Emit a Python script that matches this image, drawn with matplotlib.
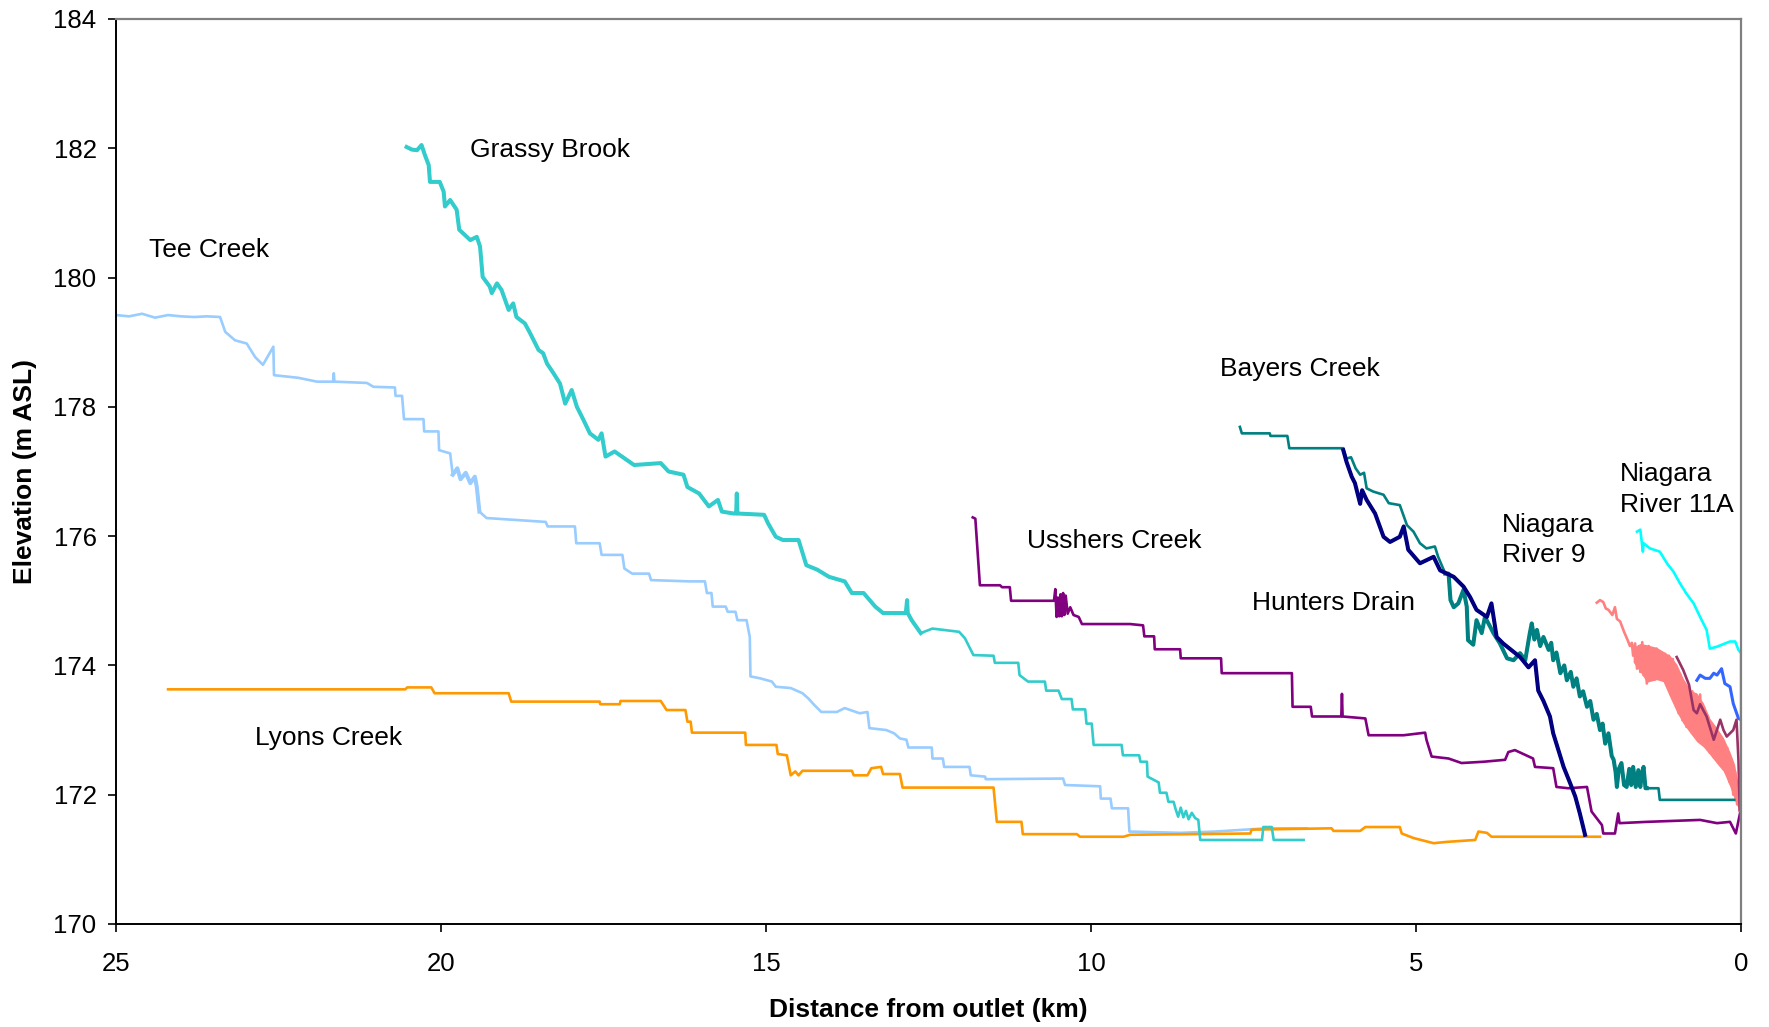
import matplotlib
matplotlib.use("Agg")
import matplotlib.pyplot as plt

plt.rcParams["font.family"] = ["Liberation Sans", "DejaVu Sans"]

# ─── Data (distance from outlet in km, elevation in m ASL) ──────────────────

tee_km = [25.0, 24.8, 24.6, 24.4, 24.2, 24.0, 23.8, 23.6, 23.4, 23.32, 23.17, 22.99, 22.86, 22.74,
          22.58, 22.57, 22.2, 21.91, 21.66, 21.65, 21.64, 21.14, 21.04, 20.71, 20.70, 20.6, 20.57,
          20.27, 20.26, 20.04, 20.03, 19.86, 19.82, 19.75, 19.7, 19.62, 19.55, 19.48, 19.45, 19.41,
          19.30, 18.39, 18.36, 17.94, 17.92, 17.56, 17.53, 17.21, 17.18, 17.06, 16.80, 16.77, 16.18,
          15.94, 15.91, 15.84, 15.82, 15.62, 15.59, 15.47, 15.44, 15.30, 15.25, 15.24, 15.09, 14.91,
          14.85, 14.62, 14.44, 14.35, 14.26, 14.15, 13.91, 13.79, 13.56, 13.44, 13.41, 13.15, 13.03,
          12.94, 12.84, 12.81, 12.45, 12.44, 12.28, 12.26, 11.87, 11.85, 11.63, 11.62, 10.43, 10.40,
          9.86, 9.85, 9.70, 9.68, 9.43, 9.41, 8.63, 8.09, 7.30, 6.68]
tee_el = [179.42, 179.40, 179.44, 179.38, 179.42, 179.40, 179.39, 179.40, 179.39, 179.16, 179.03,
          178.98, 178.77, 178.65, 178.93, 178.49, 178.45, 178.39, 178.39, 178.52, 178.39, 178.37,
          178.31, 178.30, 178.17, 178.17, 177.81, 177.81, 177.62, 177.62, 177.33, 177.28, 176.95,
          177.05, 176.88, 176.98, 176.82, 176.92, 176.76, 176.38, 176.28, 176.22, 176.15, 176.15,
          175.89, 175.89, 175.71, 175.71, 175.50, 175.42, 175.42, 175.32, 175.30, 175.30, 175.12,
          175.12, 174.91, 174.91, 174.83, 174.83, 174.70, 174.70, 174.44, 173.83, 173.80, 173.75,
          173.67, 173.65, 173.57, 173.49, 173.39, 173.28, 173.28, 173.34, 173.26, 173.28, 173.03,
          173.00, 172.95, 172.87, 172.85, 172.73, 172.73, 172.56, 172.56, 172.43, 172.43, 172.30,
          172.28, 172.24, 172.25, 172.15, 172.13, 171.94, 171.94, 171.79, 171.79, 171.43, 171.41,
          171.43, 171.48, 171.48]

grassy_km = [20.53, 20.45, 20.37, 20.30, 20.25, 20.19, 20.17, 20.02, 19.96, 19.94, 19.86, 19.76,
             19.72, 19.55, 19.45, 19.40, 19.36, 19.25, 19.22, 19.14, 19.07, 18.96, 18.89, 18.84,
             18.71, 18.63, 18.50, 18.43, 18.37, 18.27, 18.17, 18.09, 17.99, 17.91, 17.81, 17.71,
             17.58, 17.53, 17.47, 17.33, 17.03, 16.62, 16.50, 16.27, 16.21, 16.03, 15.88, 15.74,
             15.68, 15.50, 15.46, 15.45, 15.44, 15.03, 14.97, 14.85, 14.74, 14.50, 14.38, 14.21,
             14.03, 13.79, 13.68, 13.50, 13.32, 13.20, 12.85, 12.83, 12.82, 12.76, 12.62, 12.44,
             12.03, 11.94, 11.81, 11.50, 11.48, 11.12, 11.10, 10.97, 10.71, 10.69, 10.50, 10.45,
             10.30, 10.28, 10.09, 10.07, 9.99, 9.96, 9.53, 9.51, 9.26, 9.24, 9.14, 9.13, 8.96, 8.94,
             8.84, 8.81, 8.73, 8.70, 8.66, 8.62, 8.58, 8.54, 8.50, 8.45, 8.40, 8.35, 8.32, 7.37,
             7.35, 7.22, 7.19, 6.73]
grassy_el = [182.02, 181.98, 181.97, 182.05, 181.90, 181.74, 181.48, 181.48, 181.33, 181.10, 181.20,
             181.05, 180.74, 180.58, 180.63, 180.48, 180.01, 179.86, 179.76, 179.91, 179.81, 179.50,
             179.60, 179.39, 179.29, 179.14, 178.88, 178.83, 178.67, 178.52, 178.36, 178.05, 178.26,
             178.00, 177.80, 177.59, 177.49, 177.59, 177.23, 177.31, 177.10, 177.13, 177.00, 176.95,
             176.76, 176.66, 176.46, 176.56, 176.38, 176.35, 176.35, 176.66, 176.35, 176.33, 176.20,
             175.99, 175.94, 175.94, 175.55, 175.48, 175.37, 175.30, 175.12, 175.12, 174.91, 174.81,
             174.81, 175.01, 174.81, 174.70, 174.50, 174.57, 174.52, 174.42, 174.16, 174.15, 174.04,
             174.04, 173.85, 173.75, 173.75, 173.61, 173.61, 173.48, 173.48, 173.32, 173.32, 173.10,
             173.10, 172.77, 172.77, 172.61, 172.61, 172.51, 172.51, 172.28, 172.19, 172.03, 172.03,
             171.89, 171.89, 171.78, 171.66, 171.80, 171.65, 171.75, 171.62, 171.72, 171.64, 171.61,
             171.30, 171.30, 171.50, 171.50, 171.30, 171.30]

lyons_km = [24.2, 20.55, 20.52, 20.15, 20.10, 18.96, 18.92, 17.56, 17.55, 17.25, 17.24, 16.62, 16.53,
            16.24, 16.21, 16.16, 16.14, 15.32, 15.31, 14.84, 14.82, 14.68, 14.62, 14.55, 14.50, 14.44,
            13.68, 13.65, 13.44, 13.38, 13.23, 13.20, 12.94, 12.90, 11.50, 11.45, 11.07, 11.05, 10.22,
            10.17, 9.50, 9.40, 7.55, 7.53, 6.30, 6.27, 5.86, 5.78, 5.25, 5.22, 5.04, 4.73, 4.53, 4.09,
            4.04, 3.91, 3.84, 2.17]
lyons_el = [173.63, 173.63, 173.66, 173.66, 173.57, 173.57, 173.44, 173.44, 173.40, 173.40, 173.45,
            173.45, 173.31, 173.31, 173.13, 173.13, 172.96, 172.96, 172.77, 172.77, 172.63, 172.61,
            172.30, 172.36, 172.30, 172.37, 172.37, 172.30, 172.30, 172.41, 172.43, 172.32, 172.32,
            172.11, 172.11, 171.58, 171.58, 171.39, 171.39, 171.35, 171.35, 171.38, 171.40, 171.46,
            171.48, 171.44, 171.44, 171.50, 171.50, 171.40, 171.33, 171.25, 171.27, 171.30, 171.43,
            171.41, 171.35, 171.35]

usshers_km = [11.82, 11.78, 11.71, 11.40, 11.37, 11.25, 11.23, 10.57, 10.55, 10.53, 10.51, 10.49, 10.47,
              10.45, 10.43, 10.41, 10.39, 10.36, 10.32, 10.27, 10.19, 10.14, 9.40, 9.20, 9.18, 9.03,
              9.02, 8.63, 8.62, 8.00, 7.99, 6.91, 6.90, 6.62, 6.60, 6.15, 6.14, 6.13, 5.78, 5.73, 5.19,
              4.86, 4.84, 4.76, 4.50, 4.30, 3.96, 3.63, 3.58, 3.48, 3.20, 3.17, 2.89, 2.84, 2.66, 2.37,
              2.30, 2.14, 2.12, 1.94, 1.89, 1.87, 1.45, 0.63, 0.37, 0.17, 0.08, 0.0]
usshers_el = [176.29, 176.27, 175.24, 175.24, 175.21, 175.21, 175.00, 175.00, 175.18, 174.75, 175.05,
              174.76, 175.10, 174.76, 175.12, 174.78, 175.08, 174.80, 174.90, 174.78, 174.75, 174.64,
              174.64, 174.62, 174.45, 174.45, 174.25, 174.25, 174.11, 174.11, 173.88, 173.88, 173.36,
              173.36, 173.21, 173.21, 173.56, 173.21, 173.18, 172.92, 172.92, 172.96, 172.85, 172.59,
              172.56, 172.49, 172.51, 172.54, 172.66, 172.69, 172.56, 172.43, 172.41, 172.12, 172.10,
              172.12, 171.74, 171.53, 171.40, 171.40, 171.71, 171.56, 171.58, 171.61, 171.56, 171.58,
              171.40, 171.79]

bayers_km = [7.71, 7.68, 7.25, 7.24, 6.98, 6.95, 6.12, 6.07, 6.00, 5.93, 5.86, 5.80, 5.76, 5.66, 5.50,
             5.42, 5.25, 5.14, 5.04, 4.94, 4.84, 4.71, 4.66, 4.55, 4.50, 4.47, 4.42, 4.35, 4.27, 4.22,
             4.20, 4.12, 4.07, 3.99, 3.94, 3.86, 3.81, 3.71, 3.60, 3.50, 3.40, 3.32, 3.25, 3.22, 3.18,
             3.14, 3.09, 3.04, 2.96, 2.92, 2.89, 2.84, 2.78, 2.72, 2.68, 2.62, 2.58, 2.53, 2.48, 2.43,
             2.37, 2.32, 2.27, 2.22, 2.17, 2.13, 2.09, 2.04, 1.99, 1.96, 1.93, 1.91, 1.88, 1.84, 1.80,
             1.76, 1.72, 1.69, 1.66, 1.62, 1.58, 1.55, 1.52, 1.50, 1.47, 1.45, 1.27, 1.25, 0.0]
bayers_el = [177.69, 177.59, 177.59, 177.55, 177.55, 177.36, 177.36, 177.20, 177.22, 177.05, 176.95,
             176.98, 176.74, 176.69, 176.64, 176.51, 176.48, 176.17, 176.07, 175.89, 175.81, 175.84,
             175.68, 175.42, 175.42, 175.01, 174.90, 174.96, 175.17, 174.91, 174.39, 174.32, 174.70,
             174.50, 174.75, 174.60, 174.50, 174.34, 174.11, 174.08, 174.19, 174.08, 174.50, 174.65,
             174.40, 174.55, 174.30, 174.44, 174.24, 174.35, 174.08, 174.20, 173.88, 174.00, 173.77,
             173.90, 173.67, 173.80, 173.52, 173.60, 173.36, 173.45, 173.16, 173.25, 173.00, 173.10,
             172.79, 172.95, 172.60, 172.54, 172.35, 172.12, 172.40, 172.49, 172.15, 172.12, 172.40,
             172.15, 172.43, 172.12, 172.38, 172.12, 172.35, 172.43, 172.10, 172.10, 172.10, 171.92,
             171.92]

hunters_km = [6.12, 6.07, 5.99, 5.94, 5.86, 5.83, 5.76, 5.63, 5.50, 5.40, 5.25, 5.19, 5.12, 4.94, 4.73,
              4.63, 4.42, 4.27, 4.17, 4.07, 3.91, 3.84, 3.76, 3.66, 3.40, 3.27, 3.17, 3.12, 3.04, 2.94,
              2.89, 2.81, 2.73, 2.63, 2.55, 2.48, 2.40]
hunters_el = [177.33, 177.15, 176.92, 176.82, 176.50, 176.71, 176.56, 176.35, 175.99, 175.91, 175.99,
              176.15, 175.79, 175.58, 175.68, 175.47, 175.37, 175.22, 175.06, 174.86, 174.75, 174.96,
              174.44, 174.34, 174.13, 173.97, 174.08, 173.61, 173.45, 173.21, 172.95, 172.69, 172.43,
              172.18, 171.97, 171.71, 171.38]

pink_km = [2.22, 2.17, 2.12, 2.08, 2.04, 1.98, 1.94, 1.91, 1.86, 1.80, 1.74, 1.71, 1.68, 1.66, 1.63,
           1.60, 1.57, 1.55, 1.52, 1.50, 1.47, 1.45, 1.42, 1.39, 1.36, 1.33, 1.30, 1.27, 1.24, 1.20,
           1.17, 1.14, 1.11, 1.08, 1.05, 1.02, 0.99, 0.96, 0.93, 0.90, 0.87, 0.84, 0.81, 0.78, 0.75,
           0.72, 0.69, 0.66, 0.63, 0.60, 0.57, 0.54, 0.51, 0.48, 0.45, 0.42, 0.39, 0.36, 0.33, 0.30,
           0.27, 0.24, 0.21, 0.18, 0.15, 0.12, 0.09, 0.06, 0.04, 0.02]
pink_el = [174.97, 175.01, 174.98, 174.88, 174.86, 174.78, 174.90, 174.72, 174.68, 174.52, 174.38,
           174.30, 174.35, 174.15, 174.34, 173.95, 174.30, 173.90, 174.36, 173.85, 174.28, 173.72,
           174.30, 173.80, 174.25, 173.78, 174.26, 173.80, 174.20, 173.85, 174.18, 173.70, 174.15,
           173.55, 174.10, 173.45, 173.98, 173.26, 173.85, 173.15, 173.72, 173.05, 173.62, 173.00,
           173.60, 172.93, 173.55, 172.85, 173.55, 172.80, 173.35, 172.74, 173.22, 172.65, 173.10,
           172.58, 173.00, 172.52, 172.92, 172.45, 172.82, 172.35, 172.72, 172.20, 172.55, 172.00,
           172.35, 171.85, 172.10, 171.75]
# envelope of the dense noisy band on the pink profile
pink_band_km = [1.66, 1.55, 1.45, 1.30, 1.20, 1.09, 0.99, 0.89, 0.78, 0.68, 0.58, 0.48, 0.37, 0.27,
                0.17, 0.10, 0.04]
pink_band_hi = [174.28, 174.34, 174.32, 174.28, 174.22, 174.15, 174.02, 173.80, 173.62, 173.57, 173.42,
                173.18, 173.03, 172.88, 172.66, 172.47, 172.14]
pink_band_lo = [174.05, 173.90, 173.74, 173.78, 173.75, 173.50, 173.28, 173.10, 172.95, 172.82, 172.74,
                172.62, 172.48, 172.36, 172.12, 171.92, 171.78]

maroon_km = [0.99, 0.89, 0.80, 0.73, 0.68, 0.63, 0.53, 0.42, 0.32, 0.27, 0.22, 0.12, 0.07, 0.04, 0.02]
maroon_el = [174.13, 173.93, 173.70, 173.31, 173.26, 173.40, 173.21, 172.85, 173.16, 173.00, 172.90,
             173.00, 173.16, 172.54, 171.76]

blue_km = [0.68, 0.63, 0.55, 0.48, 0.42, 0.37, 0.30, 0.25, 0.17, 0.12, 0.04, 0.0]
blue_el = [173.77, 173.85, 173.80, 173.80, 173.88, 173.85, 173.95, 173.72, 173.67, 173.41, 173.18, 173.16]

cyan_km = [1.60, 1.55, 1.51, 1.50, 1.40, 1.25, 1.14, 1.04, 0.94, 0.84, 0.73, 0.63, 0.53, 0.48, 0.37,
           0.17, 0.09, 0.04, 0.0, 0.0]
cyan_el = [176.07, 176.10, 175.76, 175.89, 175.81, 175.76, 175.58, 175.45, 175.27, 175.11, 174.96,
           174.75, 174.55, 174.26, 174.29, 174.37, 174.37, 174.24, 174.19, 171.50]

# (text, km, elevation) for the in-plot labels
labels = [
    ("Grassy Brook", 19.55, 181.98),
    ("Tee Creek", 24.5, 180.43),
    ("Bayers Creek", 8.02, 178.59),
    ("Usshers Creek", 10.99, 175.92),
    ("Hunters Drain", 7.53, 174.96),
    ("Lyons Creek", 22.86, 172.88),
    ("Niagara\nRiver 9", 3.68, 175.94),
    ("Niagara\nRiver 11A", 1.86, 176.72),
]

# ─── Plot ───────────────────────────────────────────────────────────────────

fig = plt.figure(figsize=(17.69, 10.27), dpi=100)
ax = fig.add_axes([0.0656, 0.1003, 0.9186, 0.8812])

LW = 1.9
LW_NOISY = 2.9


def draw(xs, ys, color, noisy=None, lw=LW):
    """Plot a profile; the (km_hi, km_lo) stretch in `noisy` is redrawn thicker
    because the original survey data is very jagged there."""
    ax.plot(xs, ys, color=color, lw=lw)
    if noisy is not None:
        hi, lo = noisy
        sel = [i for i, x in enumerate(xs) if lo <= x <= hi]
        ax.plot([xs[i] for i in sel], [ys[i] for i in sel], color=color, lw=LW_NOISY)


draw(tee_km, tee_el, "#99CCFF", noisy=(19.85, 19.40))
draw(lyons_km, lyons_el, "#FF9900")
draw(grassy_km, grassy_el, "#33CCCC", noisy=(20.55, 12.60))
draw(usshers_km, usshers_el, "#800080")
draw(bayers_km, bayers_el, "#008080", noisy=(4.60, 1.45))
draw(hunters_km, hunters_el, "#000080", noisy=(6.12, 2.40))
ax.fill_between(pink_band_km, pink_band_lo, pink_band_hi, color="#FF8080", lw=0)
draw(pink_km, pink_el, "#FF8080")
draw(maroon_km, maroon_el, "#993366")
draw(blue_km, blue_el, "#3366FF", lw=2.2)
draw(cyan_km, cyan_el, "#00FFFF")

for txt, x, y in labels:
    ax.text(x, y, txt, fontsize=19, ha="left", va="center", linespacing=1.35)

ax.set_xlim(25, 0)
ax.set_ylim(170, 184)
ax.set_xticks([25, 20, 15, 10, 5, 0])
ax.set_yticks(range(170, 185, 2))
ax.tick_params(direction="out", length=6, width=1.2, labelsize=18.5, color="black")
ax.tick_params(axis="x", pad=14)
ax.tick_params(axis="y", pad=8)

for side in ("left", "bottom"):
    ax.spines[side].set_color("black")
    ax.spines[side].set_linewidth(1.4)
for side in ("top", "right"):
    ax.spines[side].set_color("#808080")
    ax.spines[side].set_linewidth(1.6)

ax.set_xlabel("Distance from outlet (km)", fontsize=19, fontweight="bold", va="center")
ax.set_ylabel("Elevation (m ASL)", fontsize=19, fontweight="bold", va="center")
ax.xaxis.set_label_coords(0.5, -0.0945)
ax.yaxis.set_label_coords(-0.056, 0.5)

fig.savefig("out.png", dpi=100)
